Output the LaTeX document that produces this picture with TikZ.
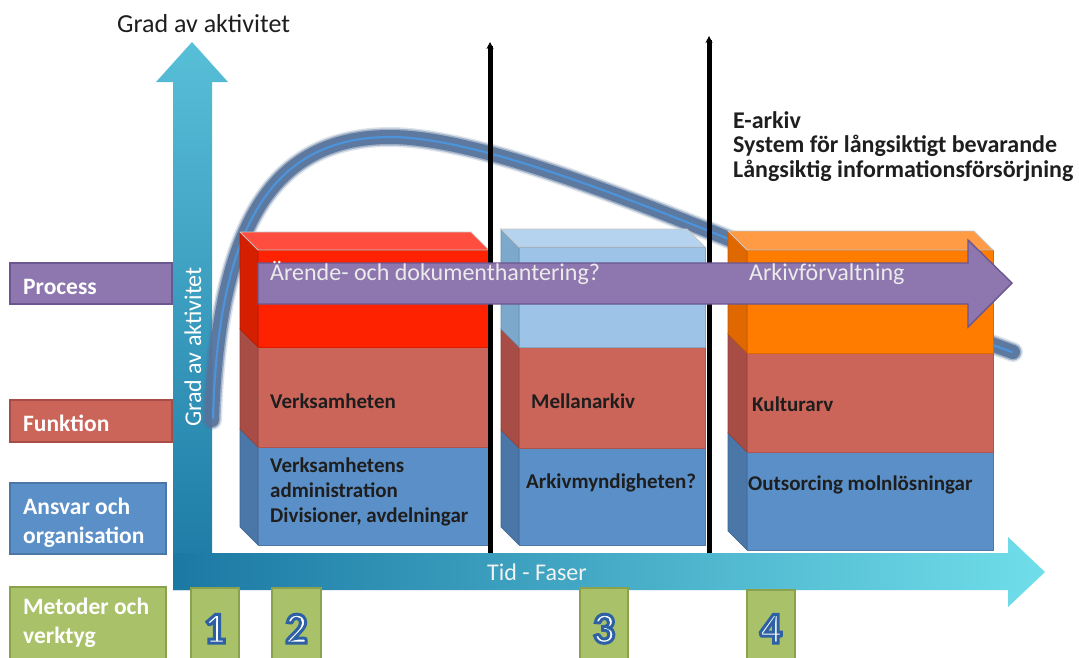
\documentclass[tikz,border=0pt]{standalone}
\usepackage{fontspec}
\setmainfont{Carlito}
\usetikzlibrary{arrows.meta}
\definecolor{axdark}{HTML}{1B78A3}
\definecolor{axlight}{HTML}{70DEEA}
\definecolor{axtop}{HTML}{58BFD8}
\definecolor{procfill}{HTML}{8E77AE}
\definecolor{procdraw}{HTML}{6A5690}
\definecolor{funcfill}{HTML}{CB6459}
\definecolor{funcside}{HTML}{A84D46}
\definecolor{orgfill}{HTML}{5B8FC7}
\definecolor{orgside}{HTML}{4A77A8}
\definecolor{metfill}{HTML}{A9C26A}
\definecolor{metdraw}{HTML}{8AA24E}
\definecolor{redfront}{HTML}{FF2200}
\definecolor{redside}{HTML}{D41F00}
\definecolor{redtop}{HTML}{FF4E40}
\definecolor{lbfront}{HTML}{9DC3E6}
\definecolor{lbside}{HTML}{7CA8CB}
\definecolor{lbtop}{HTML}{B5D3EE}
\definecolor{orfront}{HTML}{FF7C00}
\definecolor{orside}{HTML}{E06800}
\definecolor{ortop}{HTML}{FF9A45}
\definecolor{curveband}{HTML}{56739B}
\definecolor{curveline}{HTML}{4C93DA}
\definecolor{txtdark}{HTML}{1E1E1E}
\newcommand\outlined[1]{\special{pdf:literal direct 2 Tr 3 w 0.18 0.38 0.64 RG}#1\special{pdf:literal direct 0 Tr}}
\newcommand\prismlayer[7]{% x0 x1 ytop ybot depth front side
  \filldraw[fill=#7, draw=#7!85!black, line width=0.6] (#1,#3) -- (#1-#5,#3-#5) -- (#1-#5,#4-#5) -- (#1,#4) -- cycle;
  \filldraw[fill=#6, draw=#6!85!black, line width=0.6] (#1,#3) rectangle (#2,#4);
}
\newcommand\prismtop[5]{% x0 x1 ytop depth color
  \filldraw[fill=#5, draw=black!22, line width=0.8] (#1,#3) -- (#1-#4,#3-#4) -- (#2-#4,#3-#4) -- (#2,#3) -- cycle;
}
\tikzset{
  labtxt/.style={font=\fontsize{23.5}{29}\selectfont\bfseries, text=white, inner sep=0pt, anchor=base west},
  stacktxt/.style={font=\fontsize{21}{24.7}\selectfont\bfseries, text=txtdark, inner sep=0pt, anchor=base west, align=left},
  proctxt/.style={font=\fontsize{24}{28}\selectfont, text=white!92!black, inner sep=0pt, anchor=base west},
  numbox/.style={fill=metfill, draw=metdraw, line width=1.5},
  numtxt/.style={font=\fontsize{44}{48}\selectfont\bfseries, text=white, inner sep=0pt, anchor=base},
  phase/.style={line width=5, black, -{Stealth[length=7pt, width=7pt]}},
  labbox/.style={line width=1.3}
}
\begin{document}
\begin{tikzpicture}[x=1pt,y=-1pt]
\useasboundingbox (0,0) rectangle (1079,657);

% axes
\shade[top color=axtop, bottom color=axdark] (173,590) -- (173,82) -- (156,82) -- (192,42) -- (228,82) -- (212,82) -- (212,590) -- cycle;
\shade[left color=axdark, right color=axlight] (173,553) -- (1008,553) -- (1008,537) -- (1045,572) -- (1008,607) -- (1008,590) -- (173,590) -- cycle;
\node[font=\fontsize{26}{30}\selectfont, text=txtdark, inner sep=0pt, anchor=base west] (ytitle) at (117,32) {Grad av aktivitet};
\node[font=\fontsize{24}{28}\selectfont, text=white, inner sep=0pt, rotate=90] (ylabel) at (193,347) {Grad av aktivitet};
\node[font=\fontsize{24}{28}\selectfont, text=white!95!black, inner sep=0pt] (xlabel) at (537,572) {Tid - Faser};

% activity curve
\foreach \w/\o in {20/0.2,17/0.45,14/0.9}
  \draw[curveband, line width=\w, opacity=\o, line cap=round] (212,420) .. controls (218,230) and (270,137) .. (390,137) .. controls (520,137) and (800,275) .. (1013,352);
\draw[curveline, line width=2.2, line cap=round] (213,418) .. controls (218,230) and (270,137) .. (390,137) .. controls (520,137) and (800,275) .. (1012,352);

% stack 1
\prismlayer{258}{489}{447}{545}{18}{orgfill}{orgside}
\prismlayer{258}{489}{347}{447}{18}{funcfill}{funcside}
\prismlayer{258}{489}{250}{347}{18}{redfront}{redside}
\prismtop{258}{489}{250}{18}{redtop}
% stack 2
\prismlayer{519}{705}{448}{545}{18}{orgfill}{orgside}
\prismlayer{519}{705}{347}{448}{18}{funcfill}{funcside}
\prismlayer{519}{705}{247}{347}{18}{lbfront}{lbside}
\prismtop{519}{705}{247}{18}{lbtop}
% stack 3
\prismlayer{747}{993}{452}{550}{19}{orgfill}{orgside}
\prismlayer{747}{993}{353}{452}{19}{funcfill}{funcside}
\prismlayer{747}{993}{250}{353}{19}{orfront}{orside}
\prismtop{747}{993}{250}{19}{ortop}

% stack texts
\node[stacktxt] (t1) at (270,408) {Verksamheten};
\node[stacktxt] (t2) at (270,522) {Verksamhetens\\administration\\Divisioner, avdelningar};
\node[stacktxt] (t3) at (531,408) {Mellanarkiv};
\node[stacktxt] (t4) at (526,488) {Arkivmyndigheten?};
\node[stacktxt] (t5) at (752,411) {Kulturarv};
\node[stacktxt] (t6) at (748,490) {Outsorcing molnlösningar};

% phase lines
\coordinate (p1b) at (490,553); \coordinate (p1t) at (490,42);
\coordinate (p2b) at (709,553); \coordinate (p2t) at (709,36);
\draw[phase] (p1b) -- (p1t);
\draw[phase] (p2b) -- (p2t);

% process arrow
\filldraw[fill=procfill, draw=procdraw, line width=1.4] (258,263) -- (968,263) -- (968,240) -- (1012,283) -- (968,327) -- (968,304) -- (258,304) -- cycle;
\node[proctxt] (pr1) at (270,280) {Ärende- och dokumenthantering?};
\node[proctxt] (pr2) at (749,280) {Arkivförvaltning};

% E-arkiv text
\node[font=\fontsize{24}{24.5}\selectfont\bfseries, text=txtdark, inner sep=0pt, anchor=base west, align=left] (earkiv) at (733,177) {E-arkiv\\System för långsiktigt bevarande\\Långsiktig informationsförsörjning};

% left labels
\filldraw[labbox, fill=procfill, draw=procdraw] (10,263) rectangle (172,304);
\node[labtxt] (lproc) at (23,294) {Process};
\filldraw[labbox, fill=funcfill, draw=funcside] (10,400) rectangle (172,442);
\node[labtxt] (lfunk) at (23,431) {Funktion};
\filldraw[labbox, fill=orgfill, draw=orgside] (10,483) rectangle (166,554);
\node[labtxt, align=left] (lorg) at (23,543) {Ansvar och\\organisation};
\filldraw[labbox, fill=metfill, draw=metdraw] (10,587) rectangle (166,662);
\node[labtxt, align=left] (lmet) at (23,643) {Metoder och\\verktyg};

% number boxes
\draw[numbox] (191,588) rectangle (239,662);
\node[numtxt] (n1) at (215,643) {\outlined{1}};
\draw[numbox] (272,588) rectangle (321,662);
\node[numtxt] (n2) at (296.5,643) {\outlined{2}};
\draw[numbox] (580,588) rectangle (628,662);
\node[numtxt] (n3) at (604,643) {\outlined{3}};
\draw[numbox] (747,590) rectangle (795,662);
\node[numtxt] (n4) at (771,643) {\outlined{4}};
\end{tikzpicture}
\end{document}
